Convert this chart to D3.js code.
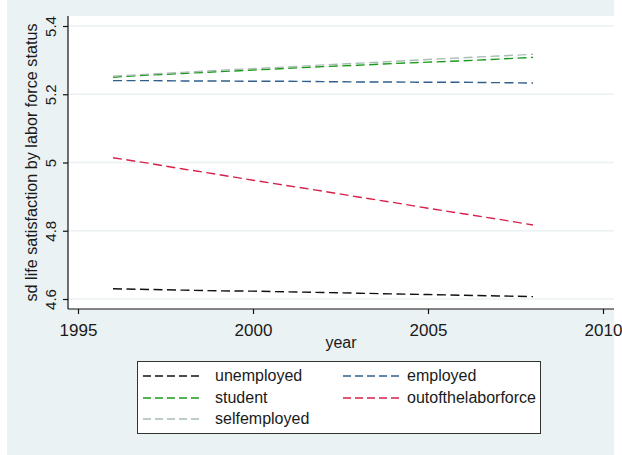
<!DOCTYPE html>
<html>
<head>
<meta charset="utf-8">
<script src="https://cdn.jsdelivr.net/npm/d3@7"></script>
<style>
  html, body { margin: 0; padding: 0; background: #ffffff; }
  svg { display: block; }
  text { font-family: "Liberation Sans", Arial, "DejaVu Sans", sans-serif; fill: #1a1a1a; }
</style>
</head>
<body>
<svg id="chart" width="622" height="455"></svg>
<script>
const years = [1996, 1997, 1998, 1999, 2000, 2001, 2002, 2003, 2004, 2005, 2006, 2007, 2008];
const unemployed = [4.630, 4.628, 4.626, 4.624, 4.623, 4.621, 4.619, 4.617, 4.615, 4.613, 4.611, 4.609, 4.607];
const employed = [5.240, 5.240, 5.239, 5.239, 5.238, 5.238, 5.237, 5.236, 5.236, 5.235, 5.235, 5.234, 5.233];
const student = [5.250, 5.256, 5.261, 5.266, 5.271, 5.276, 5.281, 5.285, 5.290, 5.294, 5.298, 5.303, 5.308];
const outofthelaborforce = [5.014, 4.998, 4.981, 4.965, 4.948, 4.932, 4.916, 4.899, 4.883, 4.866, 4.850, 4.834, 4.817];
const selfemployed = [5.253, 5.259, 5.264, 5.270, 5.275, 5.280, 5.286, 5.291, 5.296, 5.302, 5.307, 5.312, 5.317];

const seriesNames = ["unemployed", "employed", "student", "outofthelaborforce", "selfemployed"];
const seriesValues = [unemployed, employed, student, outofthelaborforce, selfemployed];
const seriesColors = ["#111111", "#2f5f8c", "#1a9a1a", "#d6204a", "#a9bdb6"];

const xTicks = [1995, 2000, 2005, 2010];
const yTicks = [4.6, 4.8, 5.0, 5.2, 5.4];
const yTickLabels = ["4.6", "4.8", "5", "5.2", "5.4"];
const xTitle = "year";
const yTitle = "sd life satisfaction by labor force status";

const svg = d3.select("#chart");

// graph background
svg.append("rect").attr("x", 7).attr("y", 0).attr("width", 607).attr("height", 455).attr("fill", "#eaf2f3");

// plot region
const plot = { left: 68, right: 614, top: 16, bottom: 309 };
svg.append("rect").attr("x", plot.left).attr("y", plot.top)
  .attr("width", plot.right - plot.left).attr("height", plot.bottom - plot.top).attr("fill", "#ffffff");

const x = d3.scaleLinear().domain([1995, 2010]).range([78, 603]);
const y = d3.scaleLinear().domain([4.6, 5.4]).range([299, 26]);

// gridlines
svg.append("g").selectAll("line").data(yTicks).join("line")
  .attr("x1", plot.left).attr("x2", plot.right)
  .attr("y1", d => y(d)).attr("y2", d => y(d))
  .attr("stroke", "#eaf2f3").attr("stroke-width", 1.5);

// series lines
const line = d3.line().x((d, i) => x(years[i])).y(d => y(d));
svg.append("g").selectAll("path").data(seriesValues).join("path")
  .attr("d", d => line(d))
  .attr("fill", "none")
  .attr("stroke", (d, i) => seriesColors[i])
  .attr("stroke-width", 1.4)
  .attr("stroke-dasharray", "9,4.5");

// axes lines
svg.append("line").attr("x1", plot.left).attr("x2", plot.left).attr("y1", plot.top).attr("y2", plot.bottom)
  .attr("stroke", "#111").attr("stroke-width", 1.2);
svg.append("line").attr("x1", plot.left).attr("x2", plot.right).attr("y1", plot.bottom).attr("y2", plot.bottom)
  .attr("stroke", "#111").attr("stroke-width", 1.2);

// x axis
const xAxis = svg.append("g").attr("transform", `translate(0,${plot.bottom})`)
  .call(d3.axisBottom(x).tickValues(xTicks).tickFormat(d3.format("d")).tickSize(5).tickPadding(10));
xAxis.select(".domain").remove();
xAxis.selectAll(".tick line").attr("stroke", "#111").attr("stroke-width", 1.2);
xAxis.selectAll(".tick text").attr("font-size", 17).attr("fill", "#1a1a1a");

// y axis
const yAxis = svg.append("g").attr("transform", `translate(${plot.left},0)`)
  .call(d3.axisLeft(y).tickValues(yTicks).tickFormat((d, i) => yTickLabels[i]).tickSize(5));
yAxis.select(".domain").remove();
yAxis.selectAll(".tick line").attr("stroke", "#111").attr("stroke-width", 1.2);
yAxis.selectAll(".tick text")
  .attr("font-size", 15)
  .attr("fill", "#1a1a1a")
  .attr("text-anchor", "middle")
  .attr("x", 0).attr("y", -12).attr("dy", 0)
  .attr("transform", "rotate(-90)");

// axis titles
svg.append("text").attr("x", (plot.left + plot.right) / 2).attr("y", 348)
  .attr("text-anchor", "middle").attr("font-size", 16).text(xTitle);
svg.append("text").attr("transform", `translate(37,${(plot.top + plot.bottom) / 2}) rotate(-90)`)
  .attr("text-anchor", "middle").attr("font-size", 16.2).text(yTitle);

// legend
const legend = svg.append("g");
legend.append("rect").attr("x", 137.5).attr("y", 361.5).attr("width", 403).attr("height", 72)
  .attr("fill", "#ffffff").attr("stroke", "#333").attr("stroke-width", 1);
const legPos = [
  { sx: 143, tx: 215, y: 376 },
  { sx: 343, tx: 407, y: 376 },
  { sx: 143, tx: 215, y: 398 },
  { sx: 343, tx: 407, y: 398 },
  { sx: 143, tx: 215, y: 419 }
];
const items = legend.selectAll("g.item").data(seriesNames).join("g").attr("class", "item");
items.append("line")
  .attr("x1", (d, i) => legPos[i].sx).attr("x2", (d, i) => legPos[i].sx + 58)
  .attr("y1", (d, i) => legPos[i].y).attr("y2", (d, i) => legPos[i].y)
  .attr("stroke", (d, i) => seriesColors[i]).attr("stroke-width", 1.3)
  .attr("stroke-dasharray", "8,4");
items.append("text")
  .attr("x", (d, i) => legPos[i].tx).attr("y", (d, i) => legPos[i].y + 5)
  .attr("font-size", 16).text(d => d);
</script>
</body>
</html>
